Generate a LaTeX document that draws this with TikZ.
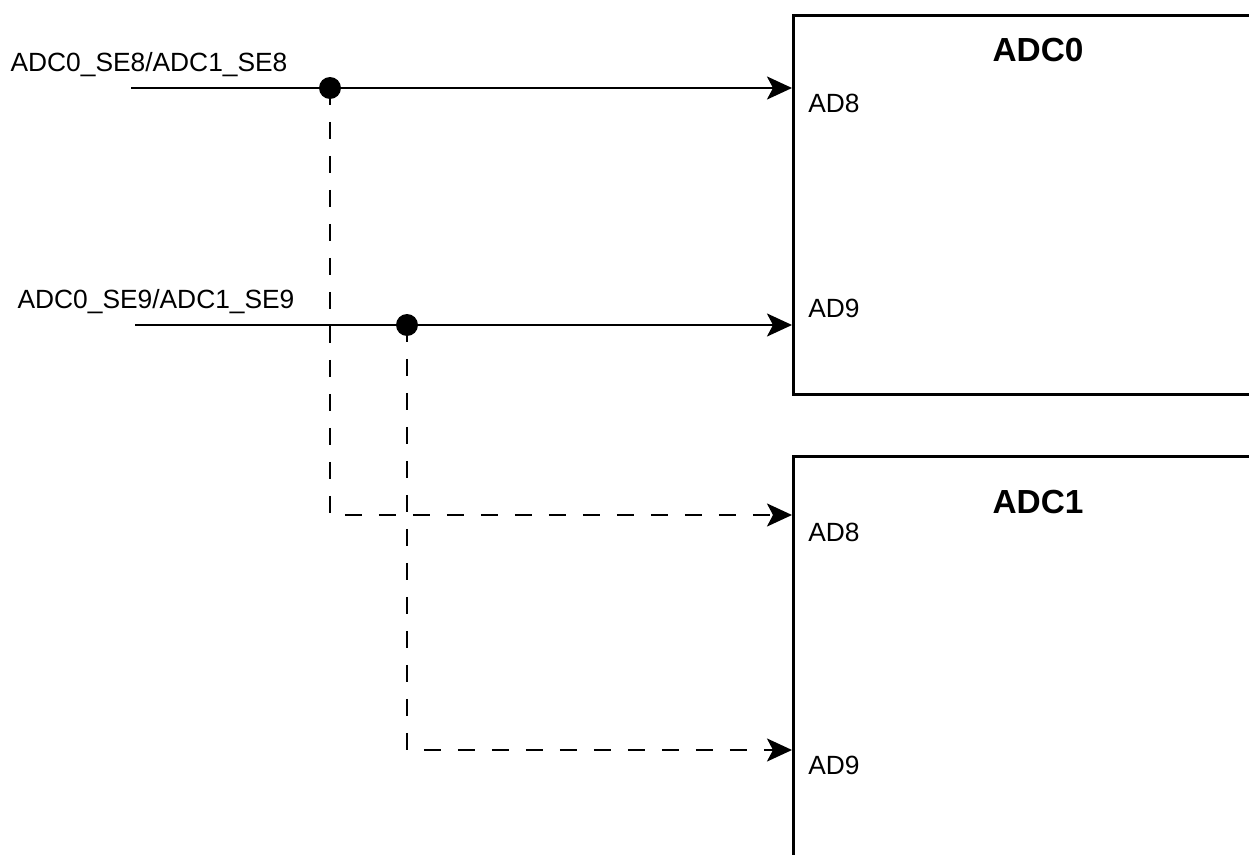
\documentclass[tikz,border=0pt]{standalone}
\usepackage{fontspec}
\setmainfont{Liberation Sans}
\usetikzlibrary{positioning,arrows.meta}

\begin{document}
\begin{tikzpicture}[x=0.02cm,y=-0.02cm,
          adc/.style={draw,line width=1.8pt,anchor=north west,
                      minimum width=9.6cm,inner sep=0pt},
          ttl/.style={font=\fontsize{19}{22}\selectfont\bfseries},
          pin/.style={anchor=west,inner sep=0pt,
                      font=\fontsize{15}{18}\selectfont},
          sig/.style={inner sep=0pt,font=\fontsize{15}{18}\selectfont},
          dot/.style={circle,fill,inner sep=0pt,minimum size=0.44cm},
          ar/.style={-{Stealth[length=5mm,width=4.6mm,inset=1.2mm]},line width=1.4pt},
          dar/.style={ar,dash pattern=on 0.34cm off 0.34cm}]
        \useasboundingbox (0,0) rectangle (1249,855);
        % converter blocks
        \node[adc,minimum height=7.58cm] (ADC0) at (792,14) {};
        \node[adc,minimum height=10cm] (ADC1) at (792,455) {};
        \node[ttl] (t0) at (1038,50) {ADC0};
        \node[ttl] (t1) at (1038,502) {ADC1};
        % pins
        \node[pin] (a08) at (808,103) {AD8};
        \node[pin] (a09) at (808,308) {AD9};
        \node[pin] (a18) at (808,532) {AD8};
        \node[pin] (a19) at (808,765) {AD9};
        \coordinate (p08) at (792,88);
        \coordinate (p09) at (792,325);
        \coordinate (p18) at (792,515);
        \coordinate (p19) at (792,750);
        % input signals
        \node[sig] (s8) at (149,65) {ADC0\_SE8/ADC1\_SE8};
        \node[sig] (s9) at (156,302) {ADC0\_SE9/ADC1\_SE9};
        \coordinate (in8) at (131,88);
        \coordinate (in9) at (135,325);
        \node[dot] (j8) at (330,88) {};
        \node[dot] (j9) at (407,325) {};
        \draw[ar] (in8) -- (p08);
        \draw[ar] (in9) -- (p09);
        \draw[dar] (j8.center) |- (p18);
        \draw[dar] (j9.center) |- (p19);
      \end{tikzpicture}
\end{document}
